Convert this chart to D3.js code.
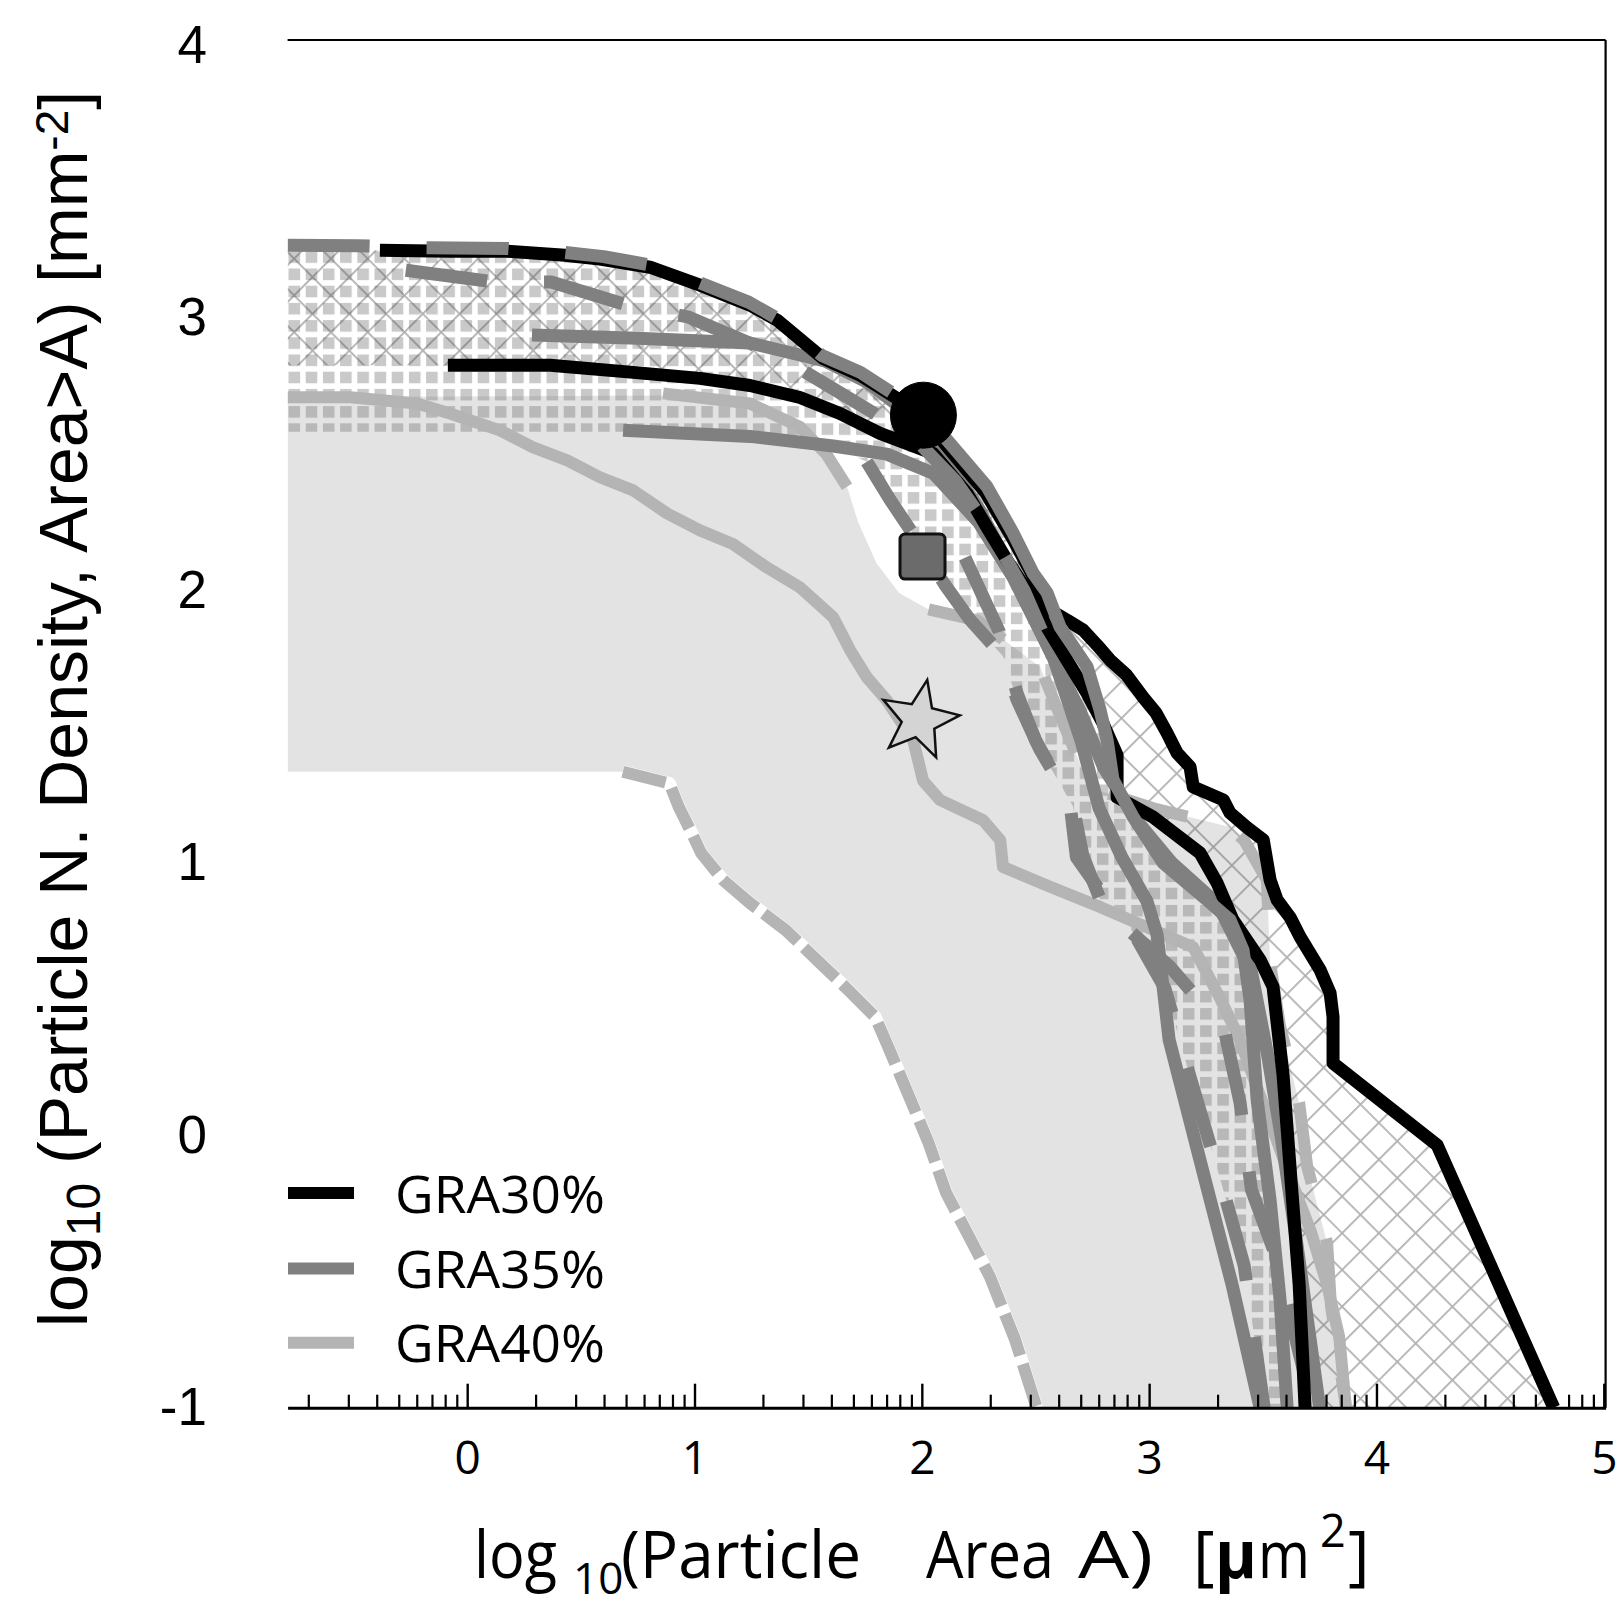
<!DOCTYPE html>
<html>
<head>
<meta charset="utf-8">
<script src="https://cdn.jsdelivr.net/npm/d3@7"></script>
<style>
  html, body { margin: 0; padding: 0; background: #fff; }
  svg { display: block; }
</style>
</head>
<body>
<svg id="chart" width="1617" height="1606"></svg>
<script>
// Cumulative particle number density vs particle area, both in log10.
// Each point: [log10 area (µm²), log10 density (mm⁻²)].

const xTickValues = [0, 1, 2, 3, 4, 5];
const yTickValues = [-1, 0, 1, 2, 3, 4];
const seriesNames = ["GRA30%", "GRA35%", "GRA40%"];
const seriesColors = ["#000000", "#808080", "#b4b4b4"];

// GRA30% individual curves
const gra30CurveA = [[-0.384,3.248],[-0.076,3.245],[0.175,3.245],[0.43,3.23],[0.584,3.216],[0.804,3.186],[1.024,3.12],[1.244,3.047],[1.363,2.992],[1.565,2.852],[1.728,2.79],[1.904,2.698],[2.007,2.643],[2.1,2.54],[2.28,2.36],[2.4,2.19],[2.49,2.05],[2.564,1.927],[2.64,1.89],[2.71,1.854],[2.77,1.8],[2.828,1.744],[2.9,1.69],[2.973,1.608],[3.03,1.55],[3.079,1.476],[3.123,1.403],[3.18,1.352],[3.194,1.278],[3.326,1.231],[3.356,1.183],[3.43,1.13],[3.502,1.084],[3.532,0.937],[3.563,0.864],[3.62,0.8],[3.664,0.728],[3.752,0.607],[3.796,0.522],[3.809,0.434],[3.809,0.265],[4.267,-0.036],[4.78,-1.0]];
const gra30CurveB = [[-0.085,2.826],[0.365,2.826],[0.73,2.8],[1.024,2.778],[1.244,2.752],[1.464,2.708],[1.64,2.649],[1.816,2.576],[2.049,2.503],[2.199,2.356],[2.287,2.231],[2.375,2.11],[2.463,2.0],[2.551,1.864],[2.639,1.743],[2.727,1.622],[2.797,1.512],[2.859,1.395],[2.859,1.241],[3.017,1.168],[3.224,1.036],[3.299,0.926],[3.369,0.79],[3.488,0.644],[3.545,0.545],[3.589,0.222],[3.624,-0.164],[3.66,-0.549],[3.686,-1.0]];

// GRA35% envelope (upper part, lower part) and curves
const gra35Top = [[-0.79,3.267],[-0.48,3.265],[-0.22,3.258],[0.18,3.255],[0.43,3.24],[0.6,3.225],[0.8,3.195],[1.02,3.13],[1.24,3.057],[1.36,3.0],[1.56,2.862],[1.73,2.8],[1.9,2.708],[2.0,2.65]];
const gra35CurveC = [[2.0,2.64],[2.111,2.552],[2.287,2.38],[2.401,2.211],[2.489,2.064],[2.551,1.991],[2.608,1.866],[2.727,1.719],[2.784,1.561],[2.815,1.451],[2.841,1.305],[2.929,1.169],[3.061,1.0],[3.254,0.864],[3.356,0.79],[3.413,0.68],[3.444,0.496],[3.475,0.13],[3.532,-0.237],[3.576,-0.604],[3.607,-1.0]];
const gra35Lower = [[-0.79,2.582],[0.686,2.582],[1.244,2.563],[1.61,2.527],[1.758,2.472],[1.86,2.333],[1.978,2.186],[2.101,2.021],[2.211,1.893],[2.357,1.758],[2.418,1.6],[2.519,1.417],[2.665,1.208],[2.709,1.025],[2.784,0.867],[2.929,0.746],[3.07,0.538],[3.176,0.226],[3.312,-0.159],[3.418,-0.478],[3.506,-1.0]];
const gra35CurveA = [[0.285,2.937],[0.75,2.925],[1.244,2.908],[1.574,2.842],[1.756,2.766],[1.937,2.653],[2.08,2.52],[2.25,2.3],[2.42,2.03],[2.58,1.75],[2.7,1.45],[2.78,1.2],[2.88,1.02],[2.99,0.86],[3.035,0.736],[3.088,0.35],[3.246,-0.164],[3.365,-0.549],[3.488,-1.0]];
const gra35CurveB = [[0.686,2.588],[1.244,2.565],[1.61,2.53],[1.846,2.5],[2.05,2.43],[2.25,2.25],[2.4,2.05],[2.55,1.8],[2.7,1.55],[2.8,1.35],[2.95,1.15],[3.1,1.0],[3.3,0.85],[3.45,0.6],[3.52,0.3],[3.58,0.0],[3.65,-0.4],[3.7,-0.7],[3.75,-1.0]];
const gra35CurveD = [[-0.27,3.175],[0.12,3.132],[0.37,3.132],[0.73,3.04],[0.97,3.004],[1.244,2.907],[1.45,2.82],[1.65,2.72],[1.85,2.62],[2.0,2.53],[2.15,2.4],[2.3,2.22],[2.45,2.0],[2.58,1.75]];
const gra35CurveE = [[2.19,2.12],[2.34,1.85],[2.42,1.62],[2.5,1.45],[2.65,1.23],[2.68,1.02],[2.9,0.76],[3.09,0.62],[3.33,0.39],[3.4,0.12],[3.45,-0.2],[3.56,-0.45],[3.66,-0.8],[3.72,-1.0]];

// GRA40% envelope and curves
const gra40Upper = [[-0.79,2.709],[0.862,2.715],[1.244,2.686],[1.464,2.6],[1.58,2.5],[1.671,2.38],[1.72,2.25],[1.8,2.1],[1.9,1.99],[2.03,1.93],[2.243,1.89],[2.52,1.72],[2.622,1.512],[2.74,1.277],[2.87,1.24],[3.018,1.2],[3.356,1.131],[3.42,1.08],[3.518,0.937],[3.532,0.632],[3.576,0.4],[3.66,0.118],[3.695,-0.113],[3.783,-0.396],[3.8,-0.627],[3.866,-1.0]];
const gra40Lower = [[-0.79,1.334],[0.685,1.334],[0.89,1.291],[0.93,1.206],[0.989,1.107],[1.029,1.036],[1.125,0.937],[1.244,0.852],[1.401,0.753],[1.539,0.643],[1.676,0.533],[1.795,0.434],[1.852,0.324],[1.951,0.129],[2.03,-0.029],[2.107,-0.212],[2.2,-0.36],[2.3,-0.52],[2.41,-0.75],[2.505,-1.0]];
const gra40CurveA = [[-0.79,2.709],[-0.516,2.709],[-0.22,2.686],[-0.076,2.649],[0.144,2.587],[0.29,2.525],[0.44,2.477],[0.584,2.415],[0.73,2.367],[0.88,2.282],[1.024,2.22],[1.169,2.17],[1.318,2.084],[1.464,2.011],[1.61,1.901],[1.685,1.78],[1.758,1.681],[1.846,1.596],[1.962,1.45],[2.006,1.3],[2.081,1.23],[2.27,1.156],[2.345,1.083],[2.357,0.985],[2.564,0.912],[2.784,0.838],[3.194,0.69],[3.312,0.503],[3.4,0.349],[3.488,0.144],[3.558,-0.01],[3.624,-0.164],[3.712,-0.355],[3.783,-0.549],[3.836,-0.74],[3.866,-1.0]];
const gra40CurveB = [[0.862,2.723],[1.244,2.686],[1.464,2.6],[1.58,2.5],[1.671,2.38]];

// Representative points for each group
const markerShapes = ["circle", "square", "star"];
const markerX = [2.007, 2.003, 1.988];
const markerY = [2.643, 2.124, 1.524];

// ---------------------------------------------------------------
const svg = d3.select("#chart");
const x = d3.scaleLinear().domain([-0.79, 5.008]).range([287.6, 1605.6]);
const y = d3.scaleLinear().domain([-1, 4.02]).range([1407.7, 40]);
const xMin = x.domain()[0];
const line = d3.line().x(d => x(d[0])).y(d => y(d[1]));
const band = (top, bottom) => line(top.concat(bottom.slice().reverse())) + "Z";

const defs = svg.append("defs");
defs.append("clipPath").attr("id", "plotClip").append("rect")
  .attr("x", x.range()[0]).attr("y", y.range()[1])
  .attr("width", x.range()[1] - x.range()[0])
  .attr("height", y.range()[0] - y.range()[1]);

// square-grid fill
const sq = defs.append("pattern").attr("id", "squares")
  .attr("patternUnits", "userSpaceOnUse")
  .attr("x", 443.3).attr("y", 371.7).attr("width", 17.2).attr("height", 17.2);
sq.append("rect").attr("width", 11.6).attr("height", 11.6).attr("fill", "rgba(120,120,120,0.40)");

// diagonal cross-hatch fill
const xh = defs.append("pattern").attr("id", "hatch")
  .attr("patternUnits", "userSpaceOnUse")
  .attr("width", 26).attr("height", 26)
  .attr("patternTransform", "rotate(45)");
xh.append("path").attr("d", "M0,0H26V1.8H1.8V26H0Z").attr("fill", "rgba(70,70,70,0.42)");

const plot = svg.append("g").attr("clip-path", "url(#plotClip)");

// range bands
plot.append("path").attr("d", band(gra40Upper, gra40Lower)).attr("fill", "#e3e3e3");
plot.append("path").attr("d", band(gra35Top.concat(gra35CurveC.slice(1)), gra35Lower)).attr("fill", "url(#squares)");
plot.append("path").attr("d", band([[xMin, gra30CurveA[0][1]]].concat(gra30CurveA), [[xMin, gra30CurveB[0][1]]].concat(gra30CurveB)))
  .attr("fill", "url(#hatch)");

function drawLine(pts, color, width, dash) {
  return plot.append("path").attr("d", line(pts)).attr("fill", "none")
    .attr("stroke", color).attr("stroke-width", width)
    .attr("stroke-linejoin", "round")
    .attr("stroke-dasharray", dash || null);
}

const c30 = seriesColors[0], c35 = seriesColors[1], c40 = seriesColors[2];
const W = 13;

// GRA40% lower envelope: dashed over a white underlay
const lowerDrawn = gra40Lower.filter(d => d[0] >= 0.685);
drawLine(lowerDrawn, "#ffffff", W);
drawLine(lowerDrawn, c40, W - 1, "44,9");

// GRA40% curves
drawLine(gra40CurveA, c40, W - 1);
drawLine(gra40CurveB, c40, W - 1);
drawLine(gra40Upper.filter(d => d[0] >= 2.03), c40, W - 1, "82,57");

// GRA35% curves
drawLine(gra35CurveA, c35, W);
drawLine(gra35CurveB, c35, W);
drawLine(gra35Lower.filter(d => d[0] >= 1.758), c35, W, "82,57");
drawLine(gra35CurveE, c35, W, "82,57");

// GRA30% curves
drawLine(gra30CurveB, c30, W);
drawLine(gra30CurveA, c30, W);

// GRA35% outer curve and dashed upper curves on top
drawLine(gra35CurveC, c35, W);
drawLine(gra35Top, c35, W, "82,57");
drawLine(gra35CurveD, c35, W, "82,57");

// markers
function starPath(R, r, rot) {
  const pts = [];
  for (let i = 0; i < 10; i++) {
    const a = -Math.PI / 2 + rot + i * Math.PI / 5;
    const rad = i % 2 === 0 ? R : r;
    pts.push([rad * Math.cos(a), rad * Math.sin(a)]);
  }
  return "M" + pts.map(p => p[0].toFixed(2) + "," + p[1].toFixed(2)).join("L") + "Z";
}
markerShapes.forEach((shape, i) => {
  const cx = x(markerX[i]), cy = y(markerY[i]);
  if (shape === "circle") {
    svg.append("circle").attr("cx", cx).attr("cy", cy).attr("r", 33)
      .attr("fill", "#000").attr("stroke", "#000").attr("stroke-width", 1);
  } else if (shape === "square") {
    svg.append("rect").attr("x", cx - 22.5).attr("y", cy - 22.5)
      .attr("width", 45).attr("height", 45).attr("rx", 5)
      .attr("fill", "#6b6b6b").attr("stroke", "#111").attr("stroke-width", 3);
  } else {
    svg.append("path").attr("transform", `translate(${cx},${cy})`)
      .attr("d", starPath(41, 17.5, 0.2))
      .attr("fill", "#d4d4d4").attr("stroke", "#111").attr("stroke-width", 2.5)
      .attr("stroke-linejoin", "miter");
  }
});

// frame: top and right borders
svg.append("line").attr("x1", x.range()[0]).attr("x2", x.range()[1])
  .attr("y1", y.range()[1]).attr("y2", y.range()[1])
  .attr("stroke", "#000").attr("stroke-width", 2.2);
svg.append("line").attr("x1", x.range()[1]).attr("x2", x.range()[1])
  .attr("y1", y.range()[1]).attr("y2", y.range()[0])
  .attr("stroke", "#000").attr("stroke-width", 2.2);

// bottom axis: log-style minor ticks and integer major ticks pointing inward
const minorTicks = [];
for (let n = -1; n <= 4; n++) {
  for (let k = 2; k <= 9; k++) {
    const v = n + Math.log10(k);
    if (v >= xMin && v <= 5) minorTicks.push(v);
  }
}
const axisY = y.range()[0];
const minorAxis = svg.append("g").attr("transform", `translate(0,${axisY})`)
  .call(d3.axisBottom(x).tickValues(minorTicks).tickSize(-13).tickSizeOuter(0).tickFormat(""));
minorAxis.select(".domain").remove();
minorAxis.selectAll(".tick line").attr("stroke", "#000").attr("stroke-width", 2.2);

const majorAxis = svg.append("g").attr("transform", `translate(0,${axisY})`)
  .call(d3.axisBottom(x).tickValues(xTickValues).tickSize(-24).tickSizeOuter(0)
    .tickPadding(34).tickFormat(d => String(d)));
majorAxis.select(".domain").attr("stroke", "#000").attr("stroke-width", 3);
majorAxis.selectAll(".tick line").attr("stroke", "#000").attr("stroke-width", 2.4);
majorAxis.selectAll(".tick text")
  .attr("font-family", "'Open Sans', sans-serif").attr("font-size", 46).attr("fill", "#000");

// left tick labels (no axis line)
const leftAxis = svg.append("g").attr("transform", "translate(207,0)")
  .call(d3.axisLeft(y).tickValues(yTickValues).tickSize(0).tickPadding(0).tickFormat(d => String(d)));
leftAxis.select(".domain").remove();
leftAxis.selectAll(".tick text")
  .attr("font-family", "'Liberation Sans', Arial, sans-serif").attr("font-size", 53).attr("fill", "#000");

// x-axis title
const xt = svg.append("g").attr("font-family", "'Open Sans', sans-serif").attr("fill", "#000");
function put(txt, px, py, size, len, weight) {
  const t = xt.append("text").attr("x", px).attr("y", py).attr("font-size", size).text(txt);
  if (len) t.attr("textLength", len).attr("lengthAdjust", "spacingAndGlyphs");
  if (weight) t.attr("font-weight", weight);
}
put("log", 474, 1578, 66, 83);
put("10", 573, 1594, 44);
put("(Particle", 621, 1578, 66, 240);
put("Area", 926, 1578, 66, 128);
put("A)", 1078, 1578, 66, 75);
put("[", 1193, 1578, 66);
put("\u03bc", 1215, 1578, 66, 42, 700);
put("m", 1258, 1578, 66, 52);
put("2", 1320, 1547, 45);
put("]", 1348, 1578, 66);

// y-axis title
const yt = svg.append("text").attr("transform", "translate(87,1327) rotate(-90)")
  .attr("font-family", "'Liberation Sans', Arial, sans-serif").attr("font-size", 68).attr("fill", "#000");
yt.append("tspan").text("log");
yt.append("tspan").attr("font-size", 48).attr("dy", 13).text("10");
yt.append("tspan").attr("dy", -13).text(" (Particle N. Density, Area>A) [mm");
yt.append("tspan").attr("font-size", 46).attr("dy", -19).text("-2");
yt.append("tspan").attr("dy", 19).text("]");

// legend
const legendRows = [1193, 1268.5, 1342.7];
seriesNames.forEach((name, i) => {
  svg.append("line").attr("x1", 288).attr("x2", 354)
    .attr("y1", legendRows[i]).attr("y2", legendRows[i])
    .attr("stroke", seriesColors[i]).attr("stroke-width", 12);
  svg.append("text").attr("x", 395).attr("y", legendRows[i] + 19.5)
    .attr("font-family", "'Open Sans', sans-serif").attr("font-size", 51)
    .attr("textLength", 210).attr("lengthAdjust", "spacingAndGlyphs")
    .attr("fill", "#000").text(name);
});
</script>
</body>
</html>
